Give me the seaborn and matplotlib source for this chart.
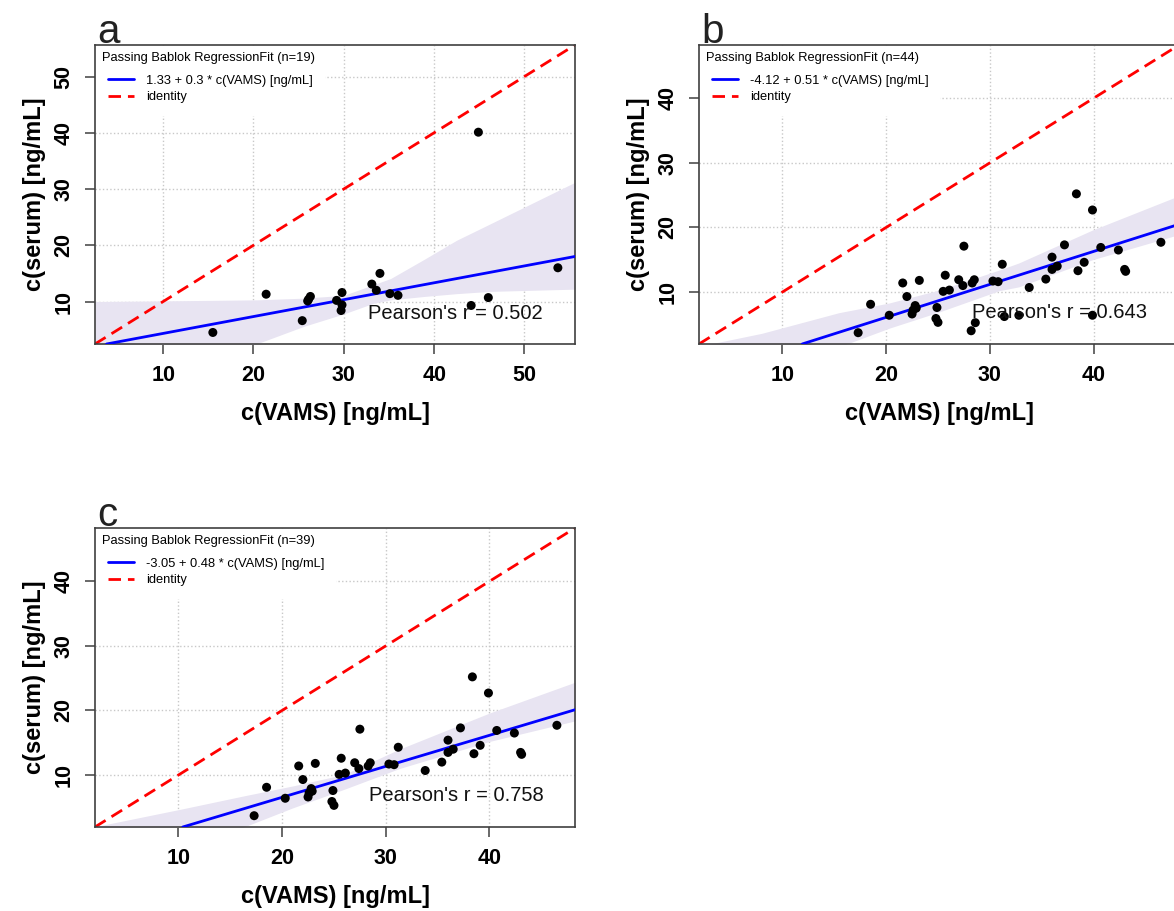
import matplotlib
matplotlib.use('Agg')
import matplotlib.pyplot as plt
import seaborn as sns
from matplotlib.lines import Line2D

# ------------------------------------------------------------
# data
# ------------------------------------------------------------
# panel a
a_vams = [15.5, 21.4, 25.4, 26.0, 26.3, 26.1, 29.2, 29.8, 29.8, 29.7,
          33.1, 34.0, 33.6, 35.1, 36.0, 44.1, 44.9, 46.0, 53.7]
a_serum = [4.5, 11.3, 6.6, 10.1, 10.9, 10.4, 10.2, 11.6, 9.4, 8.4,
           13.1, 15.0, 12.0, 11.4, 11.1, 9.3, 40.1, 10.7, 16.0]
a_fit = (1.33, 0.3)
a_band_x = [2.45, 15.0, 20.4, 25.6, 30.0, 33.3, 35.2, 38.9, 42.5, 46.2, 55.6]
a_band_lo = [-7.5, -0.5, 2.5, 5.6, 7.8, 9.7, 10.3, 10.9, 11.4, 11.8, 12.2]
a_band_hi = [10.0, 10.2, 10.3, 10.6, 11.1, 13.0, 14.1, 17.5, 20.9, 23.8, 31.2]
a_r = 0.502

# panel c (39 samples); panel b = panel c + 5 extra samples
c_vams = [17.3, 18.5, 20.3, 21.6, 22.0, 23.2, 22.5, 22.6, 22.8, 22.9,
          24.9, 24.8, 25.0, 25.7, 25.5, 26.1, 27.5, 27.0, 27.4, 28.3,
          28.5, 30.3, 30.8, 31.2, 33.8, 35.4, 36.0, 36.0, 36.5, 37.2,
          38.35, 38.5, 39.1, 39.9, 40.7, 42.4, 43.0, 43.1, 46.5]
c_serum = [3.7, 8.1, 6.4, 11.4, 9.3, 11.8, 6.6, 7.2, 7.9, 7.5,
           7.6, 5.9, 5.3, 12.6, 10.1, 10.3, 17.1, 11.9, 11.0, 11.4,
           11.9, 11.7, 11.6, 14.3, 10.7, 12.0, 15.4, 13.5, 14.0, 17.3,
           25.2, 13.3, 14.6, 22.7, 16.9, 16.5, 13.5, 13.2, 17.7]
extra_vams = [28.6, 28.2, 31.4, 32.8, 39.9]
extra_serum = [5.25, 4.0, 6.2, 6.4, 6.4]

b_vams = c_vams + extra_vams
b_serum = c_serum + extra_serum
b_fit = (-4.12, 0.51)
b_band_x = [1.95, 8.0, 15.45, 20.3, 25.1, 30.9, 32.8, 39.9, 47.6, 48.3]
b_band_lo = [-7.5, -3.5, 1.5, 4.4, 6.9, 10.2, 10.8, 15.0, 18.6, 18.9]
b_band_hi = [1.6, 3.6, 6.8, 8.3, 10.3, 13.4, 14.5, 19.6, 24.5, 24.9]
b_r = 0.643

c_fit = (-3.05, 0.48)
c_band_x = [1.95, 10.5, 16.4, 21.0, 26.0, 31.3, 40.0, 48.3]
c_band_lo = [-7.0, -1.5, 2.0, 4.9, 7.8, 11.0, 15.2, 18.4]
c_band_hi = [2.0, 4.8, 6.8, 8.3, 10.1, 14.0, 19.6, 24.4]
c_r = 0.758

ticks_a = [10, 20, 30, 40, 50]
ticks_bc = [10, 20, 30, 40]

# ------------------------------------------------------------
sns.set_theme(style='white')
plt.rcParams['font.family'] = ['Liberation Sans', 'DejaVu Sans']
plt.rcParams['text.color'] = 'black'
plt.rcParams['axes.labelcolor'] = 'black'
plt.rcParams['xtick.color'] = 'black'
plt.rcParams['ytick.color'] = 'black'

SPINE = '#404040'


def draw_panel(ax, vams, serum, fit, band_x, band_lo, band_hi, r,
               lims, ticks, r_pos, letter):
    intercept, slope = fit
    ax.set_xlim(lims)
    ax.set_ylim(lims)
    ax.set_xticks(ticks)
    ax.set_yticks(ticks)
    ax.grid(True, ls=':', color='#c8c8c8', lw=1.0)
    ax.set_axisbelow(True)

    ax.fill_between(band_x, band_lo, band_hi, color='#e8e4f2', lw=0, zorder=1)
    ax.axline((0, 0), slope=1, color='red', lw=2, ls=(0, (4.5, 2.5)), zorder=2)
    ax.axline((0, intercept), slope=slope, color='blue', lw=2, zorder=3)
    sns.scatterplot(x=vams, y=serum, ax=ax, color='black', s=42,
                    edgecolor='none', zorder=4, legend=False)

    ax.text(r_pos[0], r_pos[1], f"Pearson's r = {r:.3f}", fontsize=14.5,
            ha='center', va='center', color='#111111', zorder=5)

    handles = [Line2D([], [], color='blue', lw=2),
               Line2D([], [], color='red', lw=2, ls=(0, (4.5, 2.5)))]
    labels = [f'{intercept:g} + {slope:g} * c(VAMS) [ng/mL]', 'identity']
    leg = ax.legend(handles, labels, title=f'Passing Bablok RegressionFit (n={len(vams)})',
                    loc='upper left', fontsize=9.3, title_fontsize=9.3,
                    alignment='left', frameon=True, facecolor='white',
                    edgecolor='none', framealpha=1, fancybox=False,
                    borderaxespad=0.1, borderpad=0.45, handlelength=2.0,
                    handletextpad=0.9, labelspacing=0.35)
    # indent the entries under the title, like the R legend
    leg._legend_handle_box.pad = 4.5
    leg.set_zorder(6)

    for s in ax.spines.values():
        s.set_color(SPINE)
        s.set_linewidth(1.2)
    ax.tick_params(bottom=True, left=True, direction='out', length=7,
                   width=1.1, color=SPINE, pad=8, labelsize=15.5)
    for lab in ax.get_xticklabels() + ax.get_yticklabels():
        lab.set_fontweight('bold')
    for lab in ax.get_yticklabels():
        lab.set_rotation(90)
        lab.set_va('center')

    ax.set_xlabel('c(VAMS) [ng/mL]', fontsize=17, fontweight='bold')
    ax.set_ylabel('c(serum) [ng/mL]', fontsize=17, fontweight='bold')
    ax.xaxis.label.set_va('center')
    ax.yaxis.label.set_va('center')
    ax.xaxis.set_label_coords(0.5, -0.232)
    ax.yaxis.set_label_coords(-0.125, 0.5)

    ax.text(0.004, 1.008, letter, transform=ax.transAxes, fontsize=29,
            color='#222222', ha='left', va='baseline')


fig = plt.figure(figsize=(11.74, 9.11), dpi=100)
ax_a = fig.add_axes([0.0809, 0.6224, 0.4089, 0.3282])
ax_b = fig.add_axes([0.5954, 0.6224, 0.4089, 0.3282])
ax_c = fig.add_axes([0.0809, 0.0922, 0.4089, 0.3282])

draw_panel(ax_a, a_vams, a_serum, a_fit, a_band_x, a_band_lo, a_band_hi, a_r,
           (2.45, 55.6), ticks_a, (42.4, 7.9), 'a')
draw_panel(ax_b, b_vams, b_serum, b_fit, b_band_x, b_band_lo, b_band_hi, b_r,
           (1.95, 48.25), ticks_bc, (36.7, 6.75), 'b')
draw_panel(ax_c, c_vams, c_serum, c_fit, c_band_x, c_band_lo, c_band_hi, c_r,
           (1.95, 48.25), ticks_bc, (36.8, 6.76), 'c')

fig.savefig('out.png', dpi=100)
